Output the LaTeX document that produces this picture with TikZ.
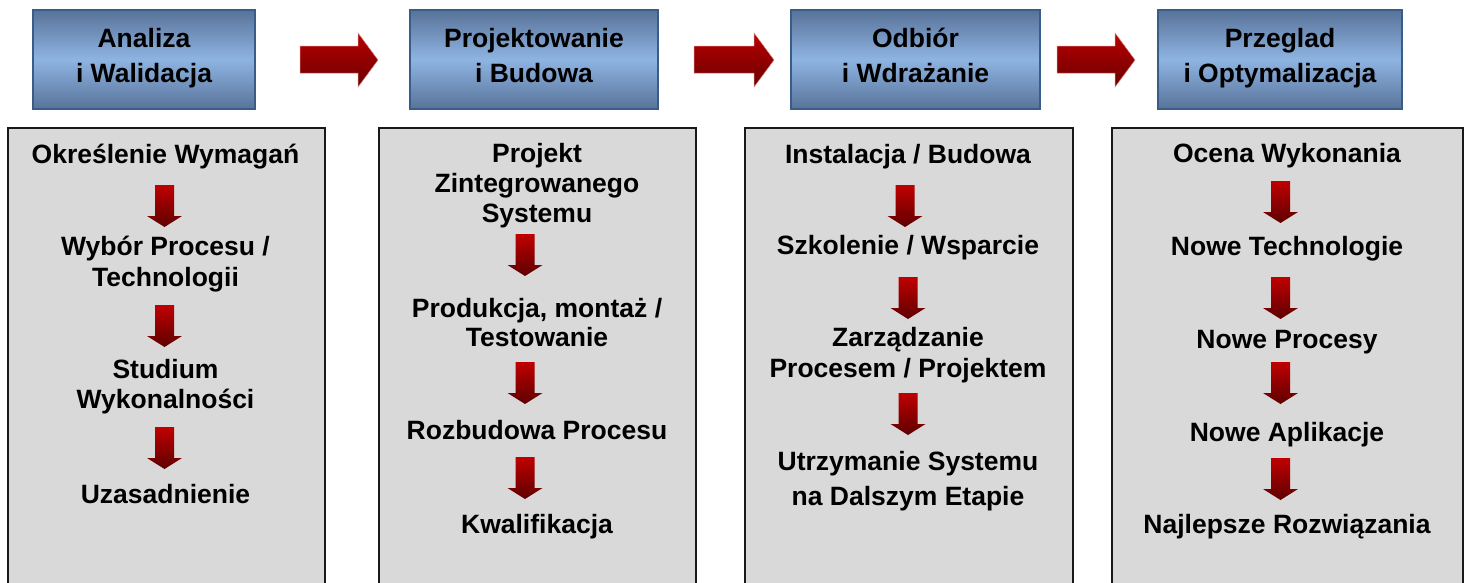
\documentclass[tikz,border=0pt]{standalone}
\usepackage{fontspec}
\setmainfont{Liberation Sans}
\definecolor{hdrtop}{HTML}{587298}
\definecolor{hdrmid}{HTML}{8EB4E2}
\definecolor{hdrbot}{HTML}{587399}
\definecolor{hdrline}{HTML}{3A5C88}
\definecolor{panelfill}{HTML}{D9D9D9}
\definecolor{redtop}{HTML}{C00000}
\definecolor{redbot}{HTML}{5E0000}
\definecolor{rarrtop}{HTML}{B80000}
\definecolor{rarrbot}{HTML}{6A0000}
\definecolor{rededge}{HTML}{D88080}
\newcommand{\mydownarrow}[2]{\path[downarr] (#1-9.5,#2) -- (#1+9.5,#2) -- (#1+9.5,#2+31) -- (#1+17.5,#2+31) -- (#1,#2+42) -- (#1-17.5,#2+31) -- (#1-9.5,#2+31) -- cycle;}
\newcommand{\myrightarrow}[2]{\path[rightarr] (#1,46) -- (#2-20,46) -- (#2-20,33) -- (#2,60) -- (#2-20,87) -- (#2-20,73) -- (#1,73) -- cycle;}
\begin{document}
\begin{tikzpicture}[x=1pt,y=-1pt,
  hdr/.style={draw=hdrline, line width=1.3pt, top color=hdrtop, bottom color=hdrbot, middle color=hdrmid, minimum height=99pt, inner sep=0pt},
  panel/.style={draw=black!90, line width=1.6pt, fill=panelfill, anchor=north west, minimum height=500pt, inner sep=0pt},
  txt/.style={font=\bfseries\fontsize{26.5}{30}\selectfont, inner sep=0pt, anchor=base, text=black},
  downarr/.style={top color=redtop, bottom color=redbot},
  rightarr/.style={top color=rarrtop, bottom color=rarrbot, draw=rededge, line width=0.5pt}]
\clip (0,0) rectangle (1468,582);
\fill[white] (0,0) rectangle (1468,582);

% headers
\node[hdr, minimum width=222pt] (h1) at (144,59.5) {};
\node[hdr, minimum width=248pt] (h2) at (534,59.5) {};
\node[hdr, minimum width=249pt] (h3) at (915.5,59.5) {};
\node[hdr, minimum width=244pt] (h4) at (1280,59.5) {};
\node[txt] (h1a) at (144,47) {Analiza};
\node[txt] (h1b) at (144,82) {i Walidacja};
\node[txt] (h2a) at (534,47) {Projektowanie};
\node[txt] (h2b) at (534,82) {i Budowa};
\node[txt] (h3a) at (915.5,47) {Odbiór};
\node[txt] (h3b) at (915.5,82) {i Wdrażanie};
\node[txt] (h4a) at (1280,47) {Przeglad};
\node[txt] (h4b) at (1280,82) {i Optymalizacja};

% arrows between headers
\myrightarrow{300}{378}
\myrightarrow{694}{774}
\myrightarrow{1057}{1135}

% panels
\node[panel, minimum width=317pt] (p1) at (7,127) {};
\node[panel, minimum width=317pt] (p2) at (378,127) {};
\node[panel, minimum width=328pt] (p3) at (744,127) {};
\node[panel, minimum width=351pt] (p4) at (1111,127) {};

% column 1
\node[txt] (c1a) at (165.5,163) {Określenie Wymagań};
\mydownarrow{164.5}{185}
\node[txt] (c1b) at (165.5,255) {Wybór Procesu /};
\node[txt] (c1c) at (165.5,286) {Technologii};
\mydownarrow{164.5}{305}
\node[txt] (c1d) at (165.5,378) {Studium};
\node[txt] (c1e) at (165.5,408) {Wykonalności};
\mydownarrow{164.5}{427}
\node[txt] (c1f) at (165.5,503) {Uzasadnienie};

% column 2
\node[txt] (c2a) at (537,162) {Projekt};
\node[txt] (c2b) at (537,192) {Zintegrowanego};
\node[txt] (c2c) at (537,222) {Systemu};
\mydownarrow{525}{234}
\node[txt] (c2d) at (537,317) {Produkcja, montaż /};
\node[txt] (c2e) at (537,346) {Testowanie};
\mydownarrow{525}{362}
\node[txt] (c2f) at (537,439) {Rozbudowa Procesu};
\mydownarrow{525}{457}
\node[txt] (c2g) at (537,533) {Kwalifikacja};

% column 3
\node[txt] (c3a) at (908,163) {Instalacja / Budowa};
\mydownarrow{905}{185}
\node[txt] (c3b) at (908,254) {Szkolenie / Wsparcie};
\mydownarrow{908}{277}
\node[txt] (c3c) at (908,346) {Zarządzanie};
\node[txt] (c3d) at (908,377) {Procesem / Projektem};
\mydownarrow{908}{393}
\node[txt] (c3e) at (908,470) {Utrzymanie Systemu};
\node[txt] (c3f) at (908,505) {na Dalszym Etapie};

% column 4
\node[txt] (c4a) at (1287,162) {Ocena Wykonania};
\mydownarrow{1280.5}{181}
\node[txt] (c4b) at (1287,255) {Nowe Technologie};
\mydownarrow{1280.5}{277}
\node[txt] (c4c) at (1287,348) {Nowe Procesy};
\mydownarrow{1280.5}{362}
\node[txt] (c4d) at (1287,441) {Nowe Aplikacje};
\mydownarrow{1280.5}{458}
\node[txt] (c4e) at (1287,533) {Najlepsze Rozwiązania};
\end{tikzpicture}
\end{document}
